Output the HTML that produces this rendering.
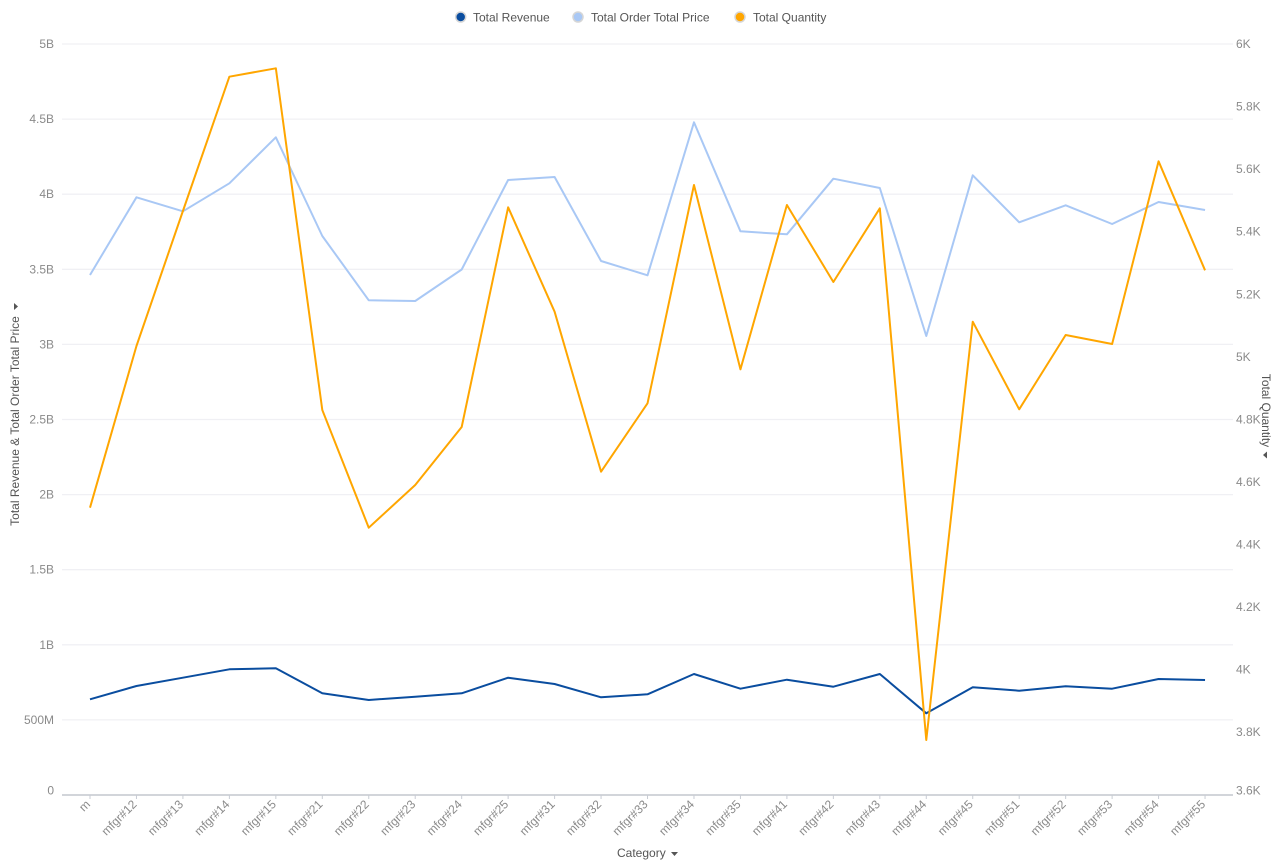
<!DOCTYPE html>
<html><head><meta charset="utf-8"><style>
html,body{margin:0;padding:0;background:#fff;}
svg{display:block;font-family:"Liberation Sans",Arial,sans-serif;}
.tk{font-size:12px;fill:#8a8a8a;}
.lg{font-size:12px;fill:#555;}
.ttl{font-size:12px;fill:#555;}
</style></head><body>
<svg width="1278" height="867" viewBox="0 0 1278 867" xmlns="http://www.w3.org/2000/svg">
<!-- legend -->
<circle cx="460.7" cy="17" r="5" fill="#0a4d9f" stroke="#d6d6d6" stroke-width="1.5"/>
<text class="lg" x="473" y="21.5">Total Revenue</text>
<circle cx="578" cy="17" r="5" fill="#a9c8f5" stroke="#d6d6d6" stroke-width="1.5"/>
<text class="lg" x="591" y="21.5">Total Order Total Price</text>
<circle cx="740" cy="17" r="5" fill="#ffa600" stroke="#d6d6d6" stroke-width="1.5"/>
<text class="lg" x="753" y="21.5">Total Quantity</text>

<!-- gridlines -->
<g stroke="#f0f0f4" stroke-width="1.3">
<line x1="62" x2="1233" y1="44" y2="44"/>
<line x1="62" x2="1233" y1="119.1" y2="119.1"/>
<line x1="62" x2="1233" y1="194.2" y2="194.2"/>
<line x1="62" x2="1233" y1="269.3" y2="269.3"/>
<line x1="62" x2="1233" y1="344.4" y2="344.4"/>
<line x1="62" x2="1233" y1="419.5" y2="419.5"/>
<line x1="62" x2="1233" y1="494.6" y2="494.6"/>
<line x1="62" x2="1233" y1="569.7" y2="569.7"/>
<line x1="62" x2="1233" y1="644.8" y2="644.8"/>
<line x1="62" x2="1233" y1="719.9" y2="719.9"/>
</g>
<line x1="62" x2="1233" y1="795" y2="795" stroke="#b8bcc4" stroke-width="1.3"/>
<g stroke="#c8ccd4" stroke-width="1">
<line x1="90" x2="90" y1="795" y2="799"/><line x1="136.46" x2="136.46" y1="795" y2="799"/><line x1="182.92" x2="182.92" y1="795" y2="799"/><line x1="229.38" x2="229.38" y1="795" y2="799"/><line x1="275.84" x2="275.84" y1="795" y2="799"/><line x1="322.3" x2="322.3" y1="795" y2="799"/><line x1="368.76" x2="368.76" y1="795" y2="799"/><line x1="415.22" x2="415.22" y1="795" y2="799"/><line x1="461.68" x2="461.68" y1="795" y2="799"/><line x1="508.14" x2="508.14" y1="795" y2="799"/><line x1="554.6" x2="554.6" y1="795" y2="799"/><line x1="601.06" x2="601.06" y1="795" y2="799"/><line x1="647.52" x2="647.52" y1="795" y2="799"/><line x1="693.98" x2="693.98" y1="795" y2="799"/><line x1="740.44" x2="740.44" y1="795" y2="799"/><line x1="786.9" x2="786.9" y1="795" y2="799"/><line x1="833.36" x2="833.36" y1="795" y2="799"/><line x1="879.82" x2="879.82" y1="795" y2="799"/><line x1="926.28" x2="926.28" y1="795" y2="799"/><line x1="972.74" x2="972.74" y1="795" y2="799"/><line x1="1019.2" x2="1019.2" y1="795" y2="799"/><line x1="1065.66" x2="1065.66" y1="795" y2="799"/><line x1="1112.12" x2="1112.12" y1="795" y2="799"/><line x1="1158.58" x2="1158.58" y1="795" y2="799"/><line x1="1205.04" x2="1205.04" y1="795" y2="799"/>
</g>

<!-- left ticks -->
<g class="tk" text-anchor="end" dominant-baseline="central">
<text x="54" y="44">5B</text>
<text x="54" y="119.1">4.5B</text>
<text x="54" y="194.2">4B</text>
<text x="54" y="269.3">3.5B</text>
<text x="54" y="344.4">3B</text>
<text x="54" y="419.5">2.5B</text>
<text x="54" y="494.6">2B</text>
<text x="54" y="569.7">1.5B</text>
<text x="54" y="644.8">1B</text>
<text x="54" y="719.9">500M</text>
<text x="54" y="790.5">0</text>
</g>
<!-- right ticks -->
<g class="tk" text-anchor="start" dominant-baseline="central">
<text x="1236" y="44">6K</text>
<text x="1236" y="106.6">5.8K</text>
<text x="1236" y="169.2">5.6K</text>
<text x="1236" y="231.7">5.4K</text>
<text x="1236" y="294.3">5.2K</text>
<text x="1236" y="356.8">5K</text>
<text x="1236" y="419.4">4.8K</text>
<text x="1236" y="481.9">4.6K</text>
<text x="1236" y="544.5">4.4K</text>
<text x="1236" y="607">4.2K</text>
<text x="1236" y="669.6">4K</text>
<text x="1236" y="732.2">3.8K</text>
<text x="1236" y="790.5">3.6K</text>
</g>

<!-- x labels -->
<g class="tk" text-anchor="end">
<text transform="translate(91,805) rotate(-45)">m</text>
<text transform="translate(137.46,805) rotate(-45)">mfgr#12</text>
<text transform="translate(183.92,805) rotate(-45)">mfgr#13</text>
<text transform="translate(230.38,805) rotate(-45)">mfgr#14</text>
<text transform="translate(276.84,805) rotate(-45)">mfgr#15</text>
<text transform="translate(323.3,805) rotate(-45)">mfgr#21</text>
<text transform="translate(369.76,805) rotate(-45)">mfgr#22</text>
<text transform="translate(416.22,805) rotate(-45)">mfgr#23</text>
<text transform="translate(462.68,805) rotate(-45)">mfgr#24</text>
<text transform="translate(509.14,805) rotate(-45)">mfgr#25</text>
<text transform="translate(555.6,805) rotate(-45)">mfgr#31</text>
<text transform="translate(602.06,805) rotate(-45)">mfgr#32</text>
<text transform="translate(648.52,805) rotate(-45)">mfgr#33</text>
<text transform="translate(694.98,805) rotate(-45)">mfgr#34</text>
<text transform="translate(741.44,805) rotate(-45)">mfgr#35</text>
<text transform="translate(787.9,805) rotate(-45)">mfgr#41</text>
<text transform="translate(834.36,805) rotate(-45)">mfgr#42</text>
<text transform="translate(880.82,805) rotate(-45)">mfgr#43</text>
<text transform="translate(927.28,805) rotate(-45)">mfgr#44</text>
<text transform="translate(973.74,805) rotate(-45)">mfgr#45</text>
<text transform="translate(1020.2,805) rotate(-45)">mfgr#51</text>
<text transform="translate(1066.66,805) rotate(-45)">mfgr#52</text>
<text transform="translate(1113.12,805) rotate(-45)">mfgr#53</text>
<text transform="translate(1159.58,805) rotate(-45)">mfgr#54</text>
<text transform="translate(1206.04,805) rotate(-45)">mfgr#55</text>
</g>

<!-- axis titles -->
<text class="ttl" x="617" y="857">Category</text>
<polygon points="671,852 678,852 674.5,856" fill="#555"/>
<g transform="translate(19,421) rotate(-90)">
<text class="ttl" x="0" y="0" text-anchor="middle">Total Revenue &amp; Total Order Total Price</text>
<polygon points="111,-5 118,-5 114.5,-1" fill="#555"/>
</g>
<g transform="translate(1262,410.5) rotate(90)">
<text class="ttl" x="0" y="0" text-anchor="middle">Total Quantity</text>
<polygon points="41,-5 48,-5 44.5,-1" fill="#555"/>
</g>

<!-- series -->
<polyline fill="none" stroke="#a9c8f5" stroke-width="2" stroke-linejoin="round" points="90,275 136.46,197.3 182.92,211.3 229.38,183.3 275.84,137.3 322.3,236 368.76,300.3 415.22,301 461.68,269.5 508.14,180 554.6,177 601.06,261 647.52,275.3 693.98,122.3 740.44,231.3 786.9,234.3 833.36,178.7 879.82,188 926.28,336 972.74,175.3 1019.2,222.3 1065.66,205.3 1112.12,224 1158.58,202 1205.04,210"/>
<polyline fill="none" stroke="#0a4d9f" stroke-width="2" stroke-linejoin="round" points="90,699.3 136.46,686 182.92,677.7 229.38,669.3 275.84,668.3 322.3,693.3 368.76,700 415.22,696.7 461.68,693.3 508.14,677.7 554.6,684 601.06,697.3 647.52,694.3 693.98,674 740.44,688.7 786.9,679.7 833.36,686.7 879.82,674 926.28,713.3 972.74,687.3 1019.2,690.7 1065.66,686.3 1112.12,688.7 1158.58,679 1205.04,680"/>
<polyline fill="none" stroke="#ffa600" stroke-width="2" stroke-linejoin="round" points="90,507.7 136.46,346 182.92,211 229.38,76.7 275.84,68.3 322.3,410 368.76,527.7 415.22,485 461.68,427 508.14,207.3 554.6,311.7 601.06,471.7 647.52,403.3 693.98,185 740.44,369.3 786.9,205 833.36,282 879.82,208.3 926.28,740 972.74,321.7 1019.2,409.3 1065.66,335 1112.12,344 1158.58,161.3 1205.04,270.3"/>
</svg>
</body></html>
